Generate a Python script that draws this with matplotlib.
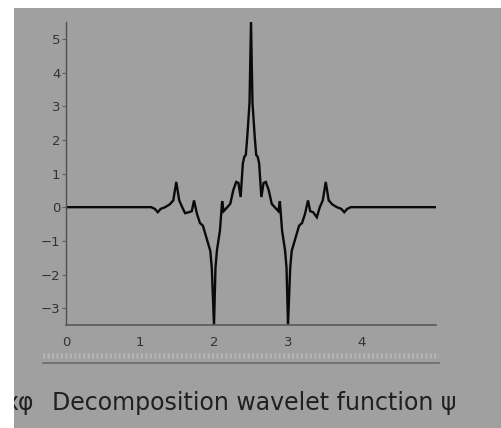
import matplotlib
matplotlib.use("Agg")
import matplotlib.pyplot as plt
from matplotlib.patches import Rectangle
from matplotlib.lines import Line2D

# wavelet samples
x_vals = [0.0, 1.15, 1.20, 1.24, 1.28, 1.34, 1.40, 1.45, 1.49, 1.53, 1.57, 1.61, 1.66, 1.70,
          1.73, 1.77, 1.81, 1.85, 1.89, 1.95, 1.97, 2.00, 2.02, 2.04, 2.08, 2.11, 2.13, 2.18,
          2.22, 2.26, 2.30, 2.33, 2.36, 2.39, 2.41, 2.43, 2.45, 2.48, 2.50,
          2.52, 2.55, 2.57, 2.59, 2.61, 2.64, 2.67, 2.70, 2.74, 2.78, 2.82, 2.87, 2.89, 2.92,
          2.96, 2.98, 3.00, 3.03, 3.05, 3.11, 3.15, 3.19, 3.23, 3.27, 3.30, 3.34, 3.39, 3.43,
          3.47, 3.51, 3.55, 3.60, 3.66, 3.72, 3.76, 3.80, 3.85, 5.0]
psi_vals = [0.0, 0.0, -0.05, -0.15, -0.05, 0.0, 0.08, 0.2, 0.75, 0.2, 0.0, -0.18, -0.15, -0.12,
            0.2, -0.2, -0.47, -0.55, -0.85, -1.3, -1.8, -3.5, -1.8, -1.28, -0.7, 0.18, -0.12, 0.0,
            0.1, 0.5, 0.75, 0.72, 0.3, 1.3, 1.5, 1.55, 2.1, 3.1, 5.5,
            3.1, 2.1, 1.55, 1.5, 1.3, 0.3, 0.72, 0.75, 0.5, 0.1, 0.0, -0.12, 0.18, -0.7,
            -1.28, -1.8, -3.5, -1.8, -1.3, -0.85, -0.55, -0.47, -0.2, 0.2, -0.12, -0.15, -0.3, 0.0,
            0.2, 0.75, 0.2, 0.08, 0.0, -0.05, -0.15, -0.05, 0.0, 0.0]
x_ticks = [0, 1, 2, 3, 4]
y_ticks = [-3, -2, -1, 0, 1, 2, 3, 4, 5]
caption = "Decomposition wavelet function ψ"
left_caption = "xφ"

W, H = 502, 428
BG = "#a0a0a0"
fig = plt.figure(figsize=(W / 100, H / 100), dpi=100, facecolor="white")

bg = Rectangle((14 / W, 0), 1 - 14 / W, 1 - 8 / H, transform=fig.transFigure,
               facecolor=BG, edgecolor="none", zorder=-10)
fig.patches.append(bg)

ax = fig.add_axes([66 / W, 1 - 325 / H, (436 - 66) / W, (325 - 22) / H], zorder=5)
ax.set_facecolor("none")
ax.plot(x_vals, psi_vals, color="#0a0a0a", lw=1.7, solid_joinstyle="miter")
ax.set_xlim(0, 5)
ax.set_ylim(-3.5, 5.5)
ax.set_xticks(x_ticks)
ax.set_yticks(y_ticks)
for s in ("top", "right"):
    ax.spines[s].set_visible(False)
ax.spines["left"].set_color("#505050")
ax.spines["bottom"].set_color("#5a5a5a")
ax.spines["left"].set_linewidth(1.0)
ax.spines["bottom"].set_linewidth(1.2)
ax.tick_params(axis="y", length=3, width=0.8, color="#606060", labelcolor="#333333",
               labelsize=9.5, pad=1)
ax.tick_params(axis="x", length=0, labelcolor="#333333", labelsize=9.5, pad=8)

# separator lines under the chart
fig.add_artist(Line2D([43 / W, 439 / W], [1 - 356 / H, 1 - 356 / H], transform=fig.transFigure,
                      color="#b4b4b4", lw=4, linestyle=(0, (0.4, 0.4))))
fig.add_artist(Line2D([43 / W, 439 / W], [1 - 363 / H, 1 - 363 / H], transform=fig.transFigure,
                      color="#6a6a6a", lw=1.2))

fig.text(52 / W, 1 - 410 / H, caption, fontsize=17, color="#202020",
         family="DejaVu Sans", va="baseline", ha="left")
t = fig.text(34 / W, 1 - 410 / H, left_caption, fontsize=17, color="#202020",
             family="DejaVu Sans", va="baseline", ha="right")
t.set_clip_path(bg)
t.set_clip_on(True)

fig.savefig("out.png", dpi=100, facecolor="white")
